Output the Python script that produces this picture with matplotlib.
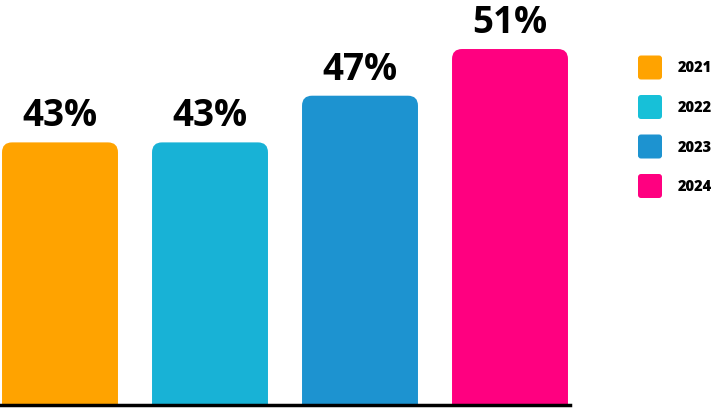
import matplotlib.pyplot as plt
from matplotlib.patches import FancyBboxPatch

plt.rcParams['font.family'] = ['Open Sans', 'DejaVu Sans']

years = ['2021', '2022', '2023', '2024']
values = [43, 43, 47, 51]
labels = ['43%', '43%', '47%', '51%']
colors = ['#FFA300', '#18B2D6', '#1D93D0', '#FF0080']
legend_colors = ['#FFA300', '#17C0D8', '#1D93D0', '#FF0080']

W, H, DPI = 712, 409, 100
fig = plt.figure(figsize=(W / DPI, H / DPI), dpi=DPI)

# main plot area: left edge to x=570 px, baseline at y=405 px
ax = fig.add_axes([0, (H - 405) / H, 570 / W, 405 / H])
ax.set_xlim(-0.4, 3.4)
ax.set_ylim(20.5, 55.2)
ax.axis('off')

bar_w = 0.773
bars = ax.bar(range(len(values)), values, width=bar_w, color=colors)

# swap the plain bars for ones with rounded tops
fig.canvas.draw()
(x0, y0), (x1, y1) = ax.transData.transform([(0, 0), (1, 1)])
px_x, px_y = x1 - x0, y1 - y0
aspect = px_x / px_y
r = 10 / px_x
for b, c in zip(bars, colors):
    b.set_visible(False)
    bottom = 15
    p = FancyBboxPatch((b.get_x(), bottom), b.get_width(), b.get_height() - bottom,
                       boxstyle=f'round,pad=0,rounding_size={r}',
                       mutation_aspect=aspect, facecolor=c, edgecolor='none')
    ax.add_patch(p)

for i, (v, t) in enumerate(zip(values, labels)):
    ax.annotate(t, (i, v), xytext=(0, 11.5), textcoords='offset points',
                ha='center', va='baseline', fontsize=26.5, fontweight='bold')

# baseline
ax.axhline(20.5, xmin=0, xmax=1, color='black', lw=2.5, clip_on=False)

# legend in pixel coords
lax = fig.add_axes([0, 0, 1, 1])
lax.set_xlim(0, W)
lax.set_ylim(H, 0)
lax.axis('off')
for k, (yr, c) in enumerate(zip(years, legend_colors)):
    cy = 67.5 + k * 39.5
    lax.add_patch(FancyBboxPatch((638, cy - 12), 24, 24,
                                 boxstyle='round,pad=0,rounding_size=3',
                                 facecolor=c, edgecolor='none'))
    lax.text(678, cy + 1, yr, ha='left', va='center', fontsize=10.5,
             fontweight='heavy')

fig.savefig('out.png', dpi=DPI)
